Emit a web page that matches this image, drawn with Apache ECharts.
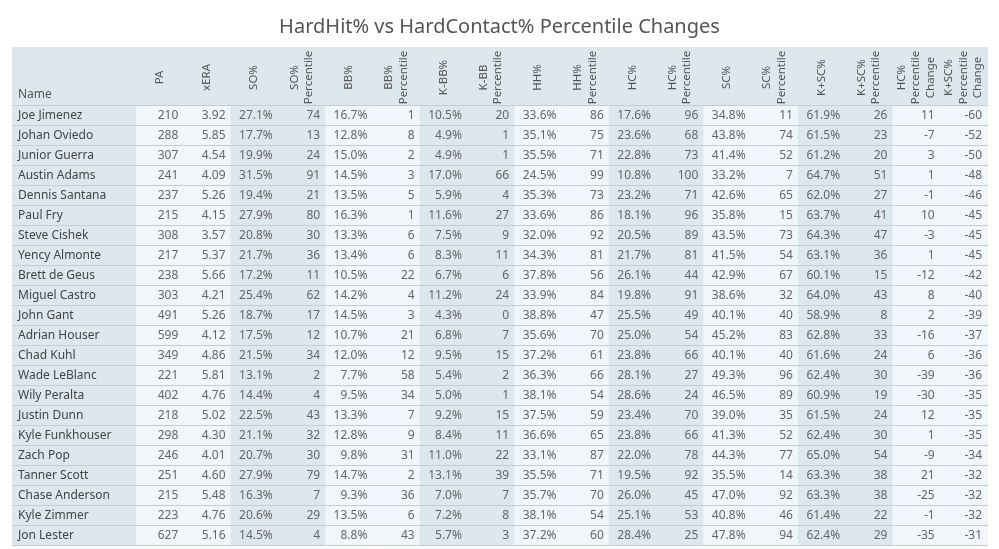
<!DOCTYPE html>
<html lang="en">
<head>
    <meta charset="UTF-8">
    <title>HardHit% vs HardContact% Percentile Changes</title>
    <script type="text/javascript" src="https://cdn.jsdelivr.net/npm/echarts@6/dist/echarts.min.js"></script>
    <style>
        html, body { margin: 0; padding: 0; background: #fff; }
    </style>
</head>
<body>
<div id="main" style="width: 999px;height: 549px;"></div>
<script type="text/javascript">
    var names = ['Joe Jimenez', 'Johan Oviedo', 'Junior Guerra', 'Austin Adams', 'Dennis Santana', 'Paul Fry',
        'Steve Cishek', 'Yency Almonte', 'Brett de Geus', 'Miguel Castro', 'John Gant', 'Adrian Houser',
        'Chad Kuhl', 'Wade LeBlanc', 'Wily Peralta', 'Justin Dunn', 'Kyle Funkhouser', 'Zach Pop',
        'Tanner Scott', 'Chase Anderson', 'Kyle Zimmer', 'Jon Lester'];

    var pa = [210, 288, 307, 241, 237, 215, 308, 217, 238, 303, 491, 599, 349, 221, 402, 218, 298, 246, 251, 215, 223, 627];
    var xera = [3.92, 5.85, 4.54, 4.09, 5.26, 4.15, 3.57, 5.37, 5.66, 4.21, 5.26, 4.12, 4.86, 5.81, 4.76, 5.02, 4.30, 4.01, 4.60, 5.48, 4.76, 5.16];
    var so = [27.1, 17.7, 19.9, 31.5, 19.4, 27.9, 20.8, 21.7, 17.2, 25.4, 18.7, 17.5, 21.5, 13.1, 14.4, 22.5, 21.1, 20.7, 27.9, 16.3, 20.6, 14.5];
    var soPct = [74, 13, 24, 91, 21, 80, 30, 36, 11, 62, 17, 12, 34, 2, 4, 43, 32, 30, 79, 7, 29, 4];
    var bb = [16.7, 12.8, 15.0, 14.5, 13.5, 16.3, 13.3, 13.4, 10.5, 14.2, 14.5, 10.7, 12.0, 7.7, 9.5, 13.3, 12.8, 9.8, 14.7, 9.3, 13.5, 8.8];
    var bbPct = [1, 8, 2, 3, 5, 1, 6, 6, 22, 4, 3, 21, 12, 58, 34, 7, 9, 31, 2, 36, 6, 43];
    var kbb = [10.5, 4.9, 4.9, 17.0, 5.9, 11.6, 7.5, 8.3, 6.7, 11.2, 4.3, 6.8, 9.5, 5.4, 5.0, 9.2, 8.4, 11.0, 13.1, 7.0, 7.2, 5.7];
    var kbbPct = [20, 1, 1, 66, 4, 27, 9, 11, 6, 24, 0, 7, 15, 2, 1, 15, 11, 22, 39, 7, 8, 3];
    var hh = [33.6, 35.1, 35.5, 24.5, 35.3, 33.6, 32.0, 34.3, 37.8, 33.9, 38.8, 35.6, 37.2, 36.3, 38.1, 37.5, 36.6, 33.1, 35.5, 35.7, 38.1, 37.2];
    var hhPct = [86, 75, 71, 99, 73, 86, 92, 81, 56, 84, 47, 70, 61, 66, 54, 59, 65, 87, 71, 70, 54, 60];
    var hc = [17.6, 23.6, 22.8, 10.8, 23.2, 18.1, 20.5, 21.7, 26.1, 19.8, 25.5, 25.0, 23.8, 28.1, 28.6, 23.4, 23.8, 22.0, 19.5, 26.0, 25.1, 28.4];
    var hcPct = [96, 68, 73, 100, 71, 96, 89, 81, 44, 91, 49, 54, 66, 27, 24, 70, 66, 78, 92, 45, 53, 25];
    var sc = [34.8, 43.8, 41.4, 33.2, 42.6, 35.8, 43.5, 41.5, 42.9, 38.6, 40.1, 45.2, 40.1, 49.3, 46.5, 39.0, 41.3, 44.3, 35.5, 47.0, 40.8, 47.8];
    var scPct = [11, 74, 52, 7, 65, 15, 73, 54, 67, 32, 40, 83, 40, 96, 89, 35, 52, 77, 14, 92, 46, 94];
    var ksc = [61.9, 61.5, 61.2, 64.7, 62.0, 63.7, 64.3, 63.1, 60.1, 64.0, 58.9, 62.8, 61.6, 62.4, 60.9, 61.5, 62.4, 65.0, 63.3, 63.3, 61.4, 62.4];
    var kscPct = [26, 23, 20, 51, 27, 41, 47, 36, 15, 43, 8, 33, 24, 30, 19, 24, 30, 54, 38, 38, 22, 29];
    var hcChange = [11, -7, 3, 1, -1, 10, -3, 1, -12, 8, 2, -16, 6, -39, -30, 12, 1, -9, 21, -25, -1, -35];
    var kscChange = [-60, -52, -50, -48, -46, -45, -45, -45, -42, -40, -39, -37, -36, -36, -35, -35, -35, -34, -32, -32, -32, -31];

    var headers = ['PA', 'xERA', 'SO%', 'SO%\nPercentile', 'BB%', 'BB%\nPercentile', 'K-BB%', 'K-BB\nPercentile',
        'HH%', 'HH%\nPercentile', 'HC%', 'HC%\nPercentile', 'SC%', 'SC%\nPercentile', 'K+SC%', 'K+SC%\nPercentile',
        'HC%\nPercentile\nChange', 'K+SC%\nPercentile\nChange'];

    var pct = function (v) { return v.toFixed(1) + '%'; };
    var int = function (v) { return String(v); };
    var columns = [
        [pa, int], [xera, function (v) { return v.toFixed(2); }], [so, pct], [soPct, int],
        [bb, pct], [bbPct, int], [kbb, pct], [kbbPct, int], [hh, pct], [hhPct, int],
        [hc, pct], [hcPct, int], [sc, pct], [scPct, int], [ksc, pct], [kscPct, int],
        [hcChange, int], [kscChange, int]
    ];

    var FONT = '"Noto Sans", "Open Sans", sans-serif';
    var HEAD_BG = '#dde7ee';
    var LIGHT_BG = '#f0f6f9';
    var DARK_BG = '#dde7ee';
    var RULE = '#c6cdd2';

    // cells for the numeric body
    var cellData = [], cellText = [];
    for (var c = 0; c < columns.length; c++) {
        for (var r = 0; r < names.length; r++) {
            cellData.push([c, r]);
            cellText.push(columns[c][1](columns[c][0][r]));
        }
    }
    var nameData = names.map(function (n, i) { return [0, i]; });
    var headData = headers.map(function (h, i) { return [i, 0]; });

    var cellBox = function (api) {
        var p = api.coord([api.value(0), api.value(1)]);
        var s = api.size([1, 1]);
        return {cx: p[0], cy: p[1], x: p[0] - s[0] / 2, y: p[1] - s[1] / 2, w: s[0], h: s[1]};
    };

    var myChart = echarts.init(document.getElementById('main'));
    var option = {
        backgroundColor: '#fff',
        animation: false,
        title: {
            text: 'HardHit% vs HardContact% Percentile Changes',
            left: 'center',
            top: 12,
            textStyle: {color: '#555', fontSize: 20, fontWeight: 'normal', fontFamily: FONT}
        },
        grid: [
            {left: 12, top: 47, width: 124, height: 59},
            {left: 136, top: 47, width: 851, height: 59},
            {left: 12, top: 106, width: 124, height: 440},
            {left: 136, top: 106, width: 851, height: 440}
        ],
        xAxis: [
            {type: 'category', gridIndex: 0, data: ['Name'], show: false},
            {type: 'category', gridIndex: 1, data: headers, show: false},
            {type: 'category', gridIndex: 2, data: ['Name'], show: false},
            {type: 'category', gridIndex: 3, data: headers, show: false}
        ],
        yAxis: [
            {type: 'category', gridIndex: 0, data: ['head'], show: false},
            {type: 'category', gridIndex: 1, data: ['head'], show: false},
            {type: 'category', gridIndex: 2, data: names, inverse: true, show: false},
            {type: 'category', gridIndex: 3, data: names, inverse: true, show: false}
        ],
        series: [
            {
                type: 'custom', xAxisIndex: 0, yAxisIndex: 0, silent: true,
                data: [[0, 0]],
                renderItem: function (params, api) {
                    var b = cellBox(api);
                    return {type: 'group', children: [
                        {type: 'rect', shape: {x: b.x, y: b.y, width: b.w, height: b.h}, style: {fill: HEAD_BG}},
                        {type: 'rect', shape: {x: b.x, y: b.y + b.h - 1, width: b.w, height: 1}, style: {fill: RULE}},
                        {type: 'text', style: {x: b.x + 6, y: b.y + b.h - 5, text: 'Name', fill: '#555',
                            font: '12px ' + FONT, align: 'left', verticalAlign: 'bottom'}}
                    ]};
                }
            },
            {
                type: 'custom', xAxisIndex: 1, yAxisIndex: 1, silent: true,
                data: headData,
                renderItem: function (params, api) {
                    var b = cellBox(api);
                    return {type: 'group', children: [
                        {type: 'rect', shape: {x: b.x, y: b.y, width: b.w + 1, height: b.h}, style: {fill: HEAD_BG}},
                        {type: 'rect', shape: {x: b.x, y: b.y + b.h - 1, width: b.w + 1, height: 1}, style: {fill: RULE}},
                        {type: 'text', x: b.cx, y: b.cy + 1, rotation: Math.PI / 2,
                            style: {text: headers[params.dataIndex], fill: '#555', font: '11.5px ' + FONT,
                                align: 'center', verticalAlign: 'middle', lineHeight: 14.5}}
                    ]};
                }
            },
            {
                type: 'custom', xAxisIndex: 2, yAxisIndex: 2, silent: true,
                data: nameData,
                renderItem: function (params, api) {
                    var b = cellBox(api);
                    return {type: 'group', children: [
                        {type: 'rect', shape: {x: b.x, y: b.y, width: b.w, height: b.h}, style: {fill: DARK_BG}},
                        {type: 'rect', shape: {x: b.x, y: b.y + b.h - 1, width: b.w, height: 1}, style: {fill: RULE}},
                        {type: 'text', style: {x: b.x + 6, y: b.cy, text: names[params.dataIndex], fill: '#444',
                            font: '12px ' + FONT, align: 'left', verticalAlign: 'middle'}}
                    ]};
                }
            },
            {
                type: 'custom', xAxisIndex: 3, yAxisIndex: 3, silent: true,
                data: cellData,
                renderItem: function (params, api) {
                    var b = cellBox(api);
                    var col = api.value(0);
                    var fill = Math.floor(col / 2) % 2 === 0 ? LIGHT_BG : DARK_BG;
                    return {type: 'group', children: [
                        {type: 'rect', shape: {x: b.x, y: b.y, width: b.w + 1, height: b.h}, style: {fill: fill}},
                        {type: 'rect', shape: {x: b.x, y: b.y + b.h - 1, width: b.w + 1, height: 1}, style: {fill: RULE}},
                        {type: 'text', style: {x: b.x + b.w - 5, y: b.cy, text: cellText[params.dataIndex], fill: '#666',
                            font: '12px ' + FONT, align: 'right', verticalAlign: 'middle'}}
                    ]};
                }
            }
        ]
    };
    myChart.setOption(option);
</script>
</body>
</html>
